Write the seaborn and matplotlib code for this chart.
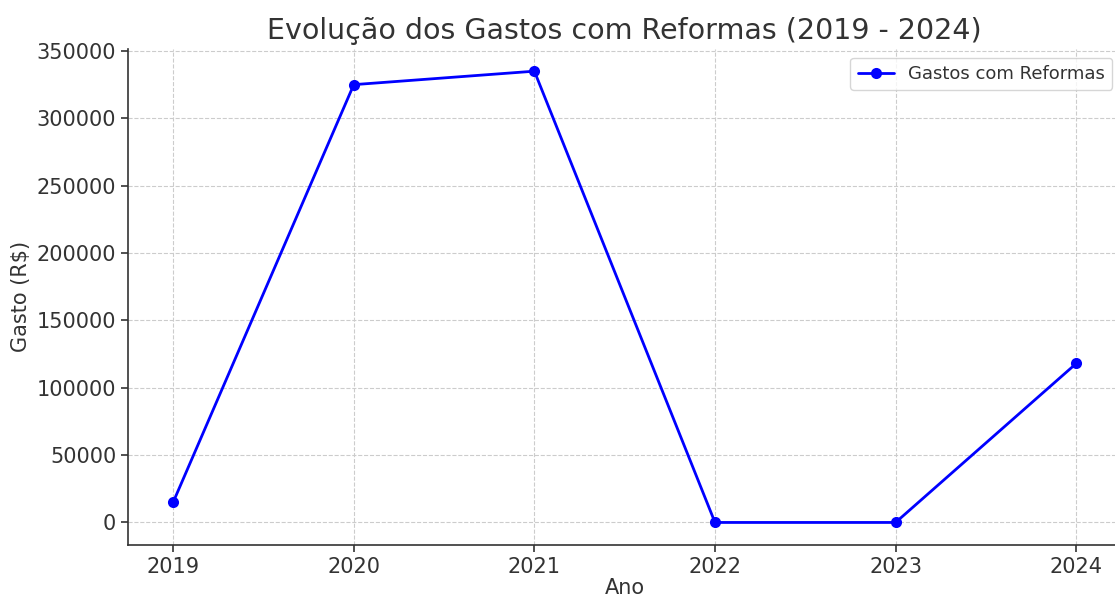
import matplotlib
matplotlib.use("Agg")
import matplotlib.pyplot as plt
import seaborn as sns
import pandas as pd

# Dados
anos = [2019, 2020, 2021, 2022, 2023, 2024]
gastos = [15000, 325000, 335000, 0, 0, 118000]
serie = "Gastos com Reformas"

df = pd.DataFrame({"Ano": anos, "Gasto": gastos})

sns.set_style("ticks")
plt.rcParams["font.family"] = ["DejaVu Sans"]
plt.rcParams["text.color"] = "#333333"
plt.rcParams["axes.labelcolor"] = "#333333"
plt.rcParams["xtick.color"] = "#333333"
plt.rcParams["ytick.color"] = "#333333"

fig = plt.figure(figsize=(11.15, 5.98), dpi=100)
ax = fig.add_axes([0.1148, 0.0886, 0.8909, 0.8301])

sns.lineplot(data=df, x="Ano", y="Gasto", ax=ax, color="blue", marker="o",
             markersize=8, markeredgewidth=0, linewidth=2, label=serie)

ax.set_title("Evolução dos Gastos com Reformas (2019 - 2024)", fontsize=20.5, pad=7)
ax.set_xlabel("Ano", fontsize=15, labelpad=1)
ax.set_ylabel("Gasto (R$)", fontsize=15)
ax.set_xticks(anos)
ax.set_yticks(range(0, 350001, 50000))
ax.tick_params(labelsize=15, length=5, width=1.2)
ax.grid(True, linestyle="--", color="#cccccc", linewidth=0.8)
for s in ["top", "right"]:
    ax.spines[s].set_visible(False)
for s in ["left", "bottom"]:
    ax.spines[s].set_linewidth(1.2)
    ax.spines[s].set_color("#333333")
ax.legend(loc="upper right", fontsize=13)

fig.savefig("out.png", dpi=100)
